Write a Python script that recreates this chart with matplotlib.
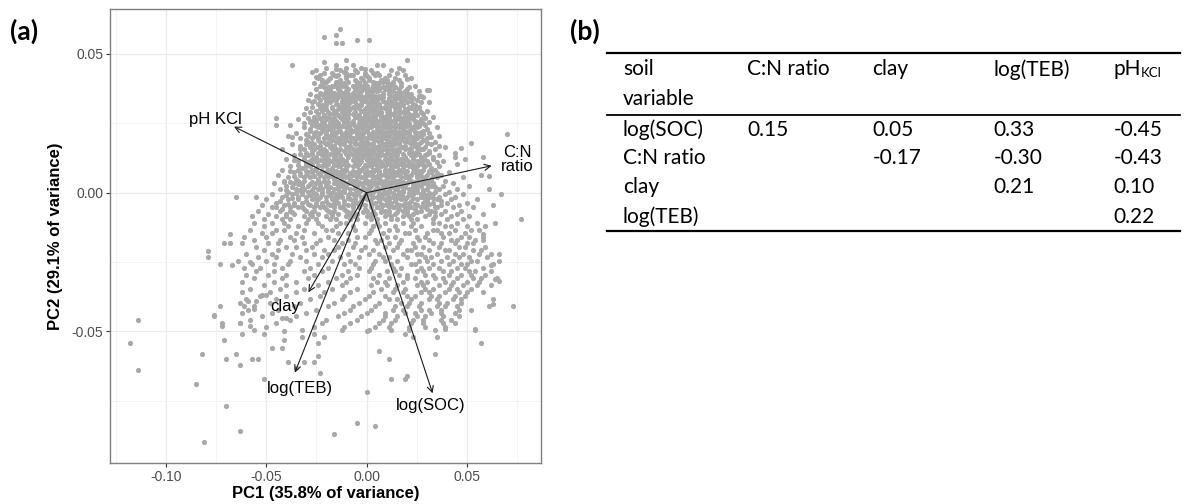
import numpy as np
import matplotlib
matplotlib.use("Agg")
import matplotlib.pyplot as plt
from matplotlib.lines import Line2D

# PCA scores, in units of 0.001
top_points = [
    (-13, 59), (-21, 56), (-15, 57), (-15, 54), (-12, 54), (-5, 55), (1, 55),
    (-37, 46), (20, 48), (-10, 48), (-21, 47), (-20, 45), (-15, 46), (-15, 44.5), (-7, 46),
    (-3, 45), (-1, 44.6), (5, 46), (8, 46), (16, 44.8), (-27, 43.5), (-25, 41.7), (-22, 40),
    (-10, 45), (-11, 43.4), (-10, 42), (-7, 42.4), (-5, 43.6), (0, 42), (3, 43.3), (-15, 42),
    (-13, 39), (-14, 38), (20, 41), (-5, 39), (5, 39.4), (5, 38), (6, 37), (10, 40), (12, 39),
    (14, 38), (-1, 38), (0, 37), (-19, 38), (-17, 36), (-20, 36), (20, 36), (16, 36),
    (27, 35), (30, 37), (-10, 36), (-7, 35), (-5, 35), (-12, 35), (-14, 35), (-16, 35),
]

outlier_points = [
    (-114, -46), (-118, -54), (-114, -64), (-85, -69), (-82, -58), (-70, -77), (-63, -86),
    (-81, -90), (-79, -21), (-76, -44), (-73, -41), (-72, -48), (-71, -53), (-70, -60),
    (-71, -18), (-68, -15), (-67, -26), (-65, -58), (-63, -62), (-63, -47), (-62, -51),
    (-61, -41), (-59, -39), (-58, -48), (-58, -25), (-57, -60), (-54, -60), (-56, -42),
    (-55, -39), (-52, -37), (-50, -37), (-51, -51), (-51, -67), (-47, -56), (-41, -50),
    (-42, -45), (-40, -45), (-41, -53), (-42, -56), (-39, -61), (-35, -63), (-31, -61),
    (-26, -61), (-23, -65), (-32, -52), (-26, -51), (-21, -52), (-24, -54), (-24, -59),
    (-16, -87), (-5, -83), (4, -84), (0, -72), (0, -50), (6, -57), (11, -60), (12, -67),
    (19, -67), (20, -66), (19, -51), (23, -52), (34, -58), (35, -52), (39, -49), (54, -49),
    (57, -54), (63, -40), (70, 21), (58, -15), (58, -17), (66, -22), (62, -26), (64, -31),
    (66, -32), (61, 6), (58, 13), (52, 18), (47, 16), (44, 13), (36, 17), (30, 14), (31, 37),
    (26, 35), (-45, 27), (-37, 20), (-41, 4), (-40, 1),
]

# bulk of the cloud, one row of PC1 values per PC2 value
cloud_rows = [
    (44.2, [-25, -13, -6, 2, 12, 18]),
    (43.1, [-21, -17, -10, -1, 5, 15]),
    (42.4, [-23, -16, -14, -8, -1, 4, 6, 11, 19]),
    (41.3, [-24, -18, -10, -3, 1, 9, 14, 22]),
    (40.5, [-22, -19, -13, -6, -2, 1, 7, 10, 16]),
    (39.4, [-26, -21, -15, -11, -4, -1, 4, 6, 13, 17]),
    (38.6, [-23, -17, -16, -12, -7, -3, 0, 3, 10, 12, 17, 24]),
    (37.5, [-25, -18, -14, -9, -6, -1, 2, 4, 9, 11, 16, 20]),
    (36.7, [-20, -18, -13, -10, -4, -3, 3, 5, 11, 13, 19, 26]),
    (35.4, [-28, -22, -19, -14, -11, -9, -5, 0, 2, 8, 11, 15, 22]),
    (34.6, [-24, -21, -15, -14, -9, -7, -1, 1, 5, 8, 14, 17, 21, 28]),
    (33.5, [-29, -23, -17, -15, -10, -8, -3, -1, 4, 5, 11, 14, 19, 25]),
    (32.7, [-27, -20, -18, -12, -8, -6, 0, 3, 4, 9, 12, 17, 20, 27, 31]),
    (31.6, [-22, -20, -14, -11, -9, -5, -3, 1, 5, 6, 12, 13, 18, 24]),
    (30.4, [-30, -23, -21, -17, -12, -10, -6, -4, 1, 2, 7, 9, 14, 16, 22, 26]),
    (29.6, [-25, -22, -16, -15, -10, -9, -3, -2, 3, 5, 10, 11, 16, 20, 24, 30]),
    (28.5, [-31, -24, -18, -16, -11, -9, -7, -1, 0, 5, 7, 12, 13, 19, 21, 28]),
    (27.3, [-26, -21, -19, -13, -11, -6, -5, 0, 2, 7, 8, 14, 15, 20, 23, 33]),
    (26.6, [-34, -25, -20, -17, -12, -10, -4, -3, 2, 3, 8, 9, 15, 17, 23, 27]),
    (25.5, [-28, -25, -18, -16, -11, -9, -7, -2, -1, 4, 5, 10, 11, 17, 19, 26, 31]),
    (24.3, [-45, -38, -27, -23, -17, -15, -9, -8, -3, -2, 3, 4, 9, 10, 16, 18, 24, 29]),
    (23.6, [-31, -24, -21, -16, -14, -10, -5, -4, 1, 2, 8, 9, 14, 16, 22, 25, 35]),
    (22.4, [-28, -22, -20, -14, -13, -7, -6, -1, 0, 6, 7, 13, 14, 19, 21, 28]),
    (21.5, [-35, -26, -23, -17, -15, -10, -8, -3, -2, 3, 5, 10, 12, 17, 19, 25, 31]),
    (20.3, [-39, -29, -26, -20, -18, -12, -10, -5, -4, 1, 3, 8, 9, 15, 17, 24, 27, 36]),
    (19.6, [-33, -27, -21, -19, -14, -12, -7, -5, 0, 2, 7, 8, 13, 15, 20, 25, 30]),
    (18.4, [-29, -23, -21, -15, -13, -8, -6, -1, 0, 6, 7, 12, 14, 19, 21, 27, 34]),
    (17.5, [-37, -30, -26, -20, -18, -13, -11, -6, -4, 1, 3, 8, 9, 14, 16, 22, 26, 32]),
    (16.3, [-28, -24, -18, -16, -10, -9, -3, -2, 3, 5, 10, 11, 17, 18, 25, 29, 39]),
    (15.6, [-42, -33, -26, -23, -17, -15, -9, -7, -2, 0, 5, 6, 12, 13, 19, 21, 27, 34]),
    (14.4, [-30, -24, -22, -16, -14, -8, -6, -1, 1, 6, 7, 13, 14, 21, 23, 31, 44]),
    (13.5, [-36, -29, -22, -20, -14, -13, -7, -5, 0, 2, 7, 9, 14, 15, 22, 24, 29, 36]),
    (12.3, [-40, -31, -27, -21, -19, -13, -12, -6, -4, 1, 3, 9, 10, 15, 17, 23, 27, 33, 49]),
    (11.6, [-34, -28, -25, -19, -17, -11, -10, -4, -3, 3, 4, 10, 11, 17, 18, 25, 30, 38]),
    (10.4, [-30, -27, -21, -19, -13, -11, -5, -4, 2, 3, 8, 10, 15, 17, 23, 26, 31, 45]),
    (9.5, [-38, -30, -28, -22, -20, -14, -13, -7, -5, 0, 2, 7, 9, 14, 15, 21, 25, 29, 36]),
    (8.3, [-42, -34, -27, -25, -19, -17, -12, -10, -4, -3, 3, 4, 9, 11, 16, 18, 24, 28, 34]),
    (7.6, [-36, -29, -27, -20, -18, -13, -11, -5, -4, 2, 3, 9, 10, 15, 17, 23, 27, 32, 41]),
    (6.4, [-44, -33, -30, -23, -20, -14, -12, -7, -5, 0, 2, 7, 9, 14, 16, 22, 25, 30, 37, 57]),
    (5.5, [-39, -31, -28, -21, -19, -12, -10, -5, -3, 3, 4, 10, 11, 17, 19, 25, 29, 35, 48]),
    (4.3, [-41, -34, -31, -24, -21, -15, -13, -7, -6, 0, 2, 7, 9, 15, 16, 22, 26, 31, 39]),
    (3.6, [-46, -36, -32, -25, -23, -16, -15, -9, -7, -2, 0, 5, 7, 12, 14, 20, 23, 28, 33, 43]),
    (2.4, [-40, -32, -29, -23, -20, -14, -12, -6, -5, 1, 2, 8, 9, 15, 17, 23, 27, 32, 38, 51]),
    (1.5, [-43, -35, -31, -24, -22, -16, -14, -8, -6, -1, 1, 6, 8, 14, 15, 21, 25, 30, 36, 45, 61]),
    (0.3, [-39, -32, -29, -22, -19, -13, -11, -5, -4, 2, 3, 9, 11, 16, 18, 25, 28, 34, 41]),
    (-0.6, [-47, -37, -32, -25, -22, -15, -13, -7, -5, 1, 2, 8, 10, 16, 17, 23, 27, 33, 39, 48, 67]),
    (-1.5, [-65, -55, -42, -34, -30, -23, -20, -14, -12, -6, -3, 3, 5, 11, 13, 18, 20, 27, 31, 36, 44]),
    (-2.4, [-50, -39, -34, -27, -24, -17, -15, -8, -6, 0, 2, 9, 11, 17, 19, 25, 29, 35, 42, 55]),
    (-3.6, [-45, -36, -32, -25, -22, -16, -14, -7, -5, 2, 4, 10, 12, 19, 21, 28, 33, 40, 50]),
    (-4.5, [-52, -41, -36, -28, -25, -18, -16, -9, -7, -1, 2, 8, 10, 16, 18, 25, 30, 37, 46, 63]),
    (-5.3, [-47, -38, -34, -26, -23, -16, -13, -7, -4, 2, 5, 11, 13, 19, 22, 29, 35, 43, 53]),
    (-6.6, [-54, -43, -38, -30, -26, -19, -16, -10, -7, 0, 3, 9, 11, 18, 20, 27, 32, 39, 47]),
    (-7.5, [-49, -40, -36, -28, -24, -17, -14, -8, -5, 2, 4, 11, 14, 20, 23, 31, 37, 45, 58]),
    (-8.4, [-57, -45, -40, -31, -27, -20, -17, -10, -7, 0, 2, 9, 12, 18, 21, 29, 34, 42, 51]),
    (-9.6, [-51, -42, -38, -29, -25, -18, -15, -8, -5, 2, 5, 12, 15, 22, 25, 33, 40, 48, 77]),
    (-10.8, [-56, -47, -41, -30, -24, -13, -10, -1, 5, 9, 18, 23, 33, 36, 45, 55, 64]),
    (-12.1, [-51, -39, -34, -22, -15, -7, 3, 6, 14, 22, 27, 39, 42, 50, 59]),
    (-13.3, [-58, -45, -41, -31, -20, -17, -6, 2, 11, 15, 24, 33, 35, 44, 52, 56]),
    (-14.6, [-52, -47, -35, -26, -14, -9, 1, 8, 19, 21, 30, 37, 41, 49]),
    (-15.8, [-61, -50, -38, -32, -19, -5, -1, 10, 14, 25, 29, 38, 47, 51, 58]),
    (-17.1, [-56, -43, -36, -23, -16, -9, 4, 7, 17, 26, 31, 42, 45, 54]),
    (-18.3, [-68, -62, -49, -44, -31, -25, -12, -6, 5, 11, 16, 23, 33, 37, 44, 50, 53]),
    (-19.6, [-55, -40, -35, -27, -14, -7, -1, 9, 15, 24, 28, 36, 46, 49, 59]),
    (-20.8, [-51, -44, -30, -21, -16, -3, 3, 13, 20, 22, 31, 39, 41, 53, 57]),
    (-22.1, [-60, -47, -37, -26, -19, -9, 1, 6, 18, 25, 27, 35, 44, 48, 56, 62]),
    (-23.3, [-79, -54, -45, -33, -22, -13, -4, 8, 11, 20, 29, 32, 40, 46, 51, 60]),
    (-24.6, [-64, -50, -38, -30, -17, -8, 4, 9, 15, 26, 30, 37, 43, 52, 55, 66]),
    (-25.8, [-73, -57, -46, -39, -24, -11, -6, 3, 12, 22, 24, 33, 41, 47, 50, 63]),
    (-27.1, [-61, -53, -42, -28, -19, -4, 2, 13, 17, 27, 31, 36, 45, 49, 58]),
    (-28.3, [-55, -46, -31, -22, -9, 1, 10, 14, 25, 28, 38, 42, 51, 54, 62]),
    (-29.6, [-60, -49, -40, -26, -12, -5, 6, 16, 20, 29, 33, 41, 47, 52, 59]),
    (-30.8, [-56, -42, -29, -15, -8, 3, 11, 20, 24, 34, 38, 45, 53, 57, 65]),
    (-32.1, [-62, -46, -35, -19, -10, 5, 9, 18, 27, 30, 39, 43, 50, 56]),
    (-33.3, [-51, -40, -24, -12, 2, 10, 15, 25, 28, 36, 42, 48, 55, 62]),
    (-34.6, [-58, -43, -31, -17, -5, 7, 14, 19, 29, 33, 41, 45, 52]),
    (-35.8, [-62, -48, -35, -21, -8, 3, 13, 18, 27, 31, 39, 46, 50, 58]),
    (-37.1, [-53, -40, -23, -11, 1, 9, 20, 24, 32, 36, 44, 49]),
    (-38.3, [-60, -45, -28, -12, -1, 11, 15, 22, 31, 35, 43, 47, 63]),
    (-39.6, [-63, -48, -33, -16, -4, 6, 17, 21, 27, 36, 40, 47]),
    (-40.8, [-56, -36, -19, -7, 4, 14, 20, 26, 35, 39, 45, 61, 73]),
    (-42.1, [-59, -44, -25, -8, 2, 13, 18, 27, 31, 37, 46, 52]),
    (-43.3, [-62, -47, -30, -11, 0, 9, 19, 24, 32, 37, 44]),
    (-44.6, [-76, -52, -35, -14, -3, 9, 15, 25, 29, 38, 46]),
    (-45.8, [-58, -38, -20, -5, 8, 14, 23, 28, 37, 42]),
    (-47.1, [-72, -63, -45, -22, -8, 6, 12, 22, 28, 38, 44]),
    (-48.3, [-50, -26, -11, 4, 11, 21, 29, 39]),
    (-49.6, [-56, -32, -12, 1, 12, 21, 34, 54]),
]

# extra points of the dense core, lying between the rows above
core_fill_rows = [
    (39.9, [-20, -15, -9, -5, 3, 8, 13]),
    (38.0, [-21, -14, -10, -5, -2, 6, 8, 14, 21]),
    (36.1, [-23, -16, -11, -7, 0, 2, 8, 15, 17]),
    (35.0, [-25, -17, -12, -6, -3, 4, 6, 13, 19]),
    (34.0, [-19, -11, -4, 3, 7, 11, 16, 23]),
    (33.1, [-26, -20, -12, -6, -2, 2, 8, 13, 17, 22]),
    (32.1, [-24, -15, -10, -3, 1, 6, 10, 15, 23]),
    (31.0, [-27, -17, -13, -7, 0, 3, 9, 16, 21, 26]),
    (30.0, [-20, -14, -8, -1, 5, 11, 19, 24]),
    (29.0, [-28, -19, -12, -6, 1, 7, 14, 18, 27]),
    (28.0, [-21, -14, -4, 3, 10, 16, 23, 25]),
    (27.0, [-29, -23, -16, -9, -2, 4, 11, 18, 21, 29]),
    (25.9, [-27, -22, -15, -7, 0, 6, 13, 20, 24]),
    (25.0, [-31, -21, -14, -4, 2, 8, 14, 21, 28]),
    (23.9, [-25, -19, -12, -6, 0, 6, 12, 20, 26]),
    (23.0, [-28, -22, -18, -8, -2, 5, 11, 18, 23, 30]),
    (21.9, [-25, -16, -10, -4, 3, 9, 16, 24, 27]),
    (21.0, [-30, -20, -12, -5, 1, 7, 14, 21, 28]),
    (19.9, [-24, -16, -8, -2, 5, 11, 18, 22, 32]),
    (19.0, [-30, -24, -17, -10, -3, 4, 10, 17, 23, 28]),
    (17.9, [-27, -19, -11, -3, 3, 10, 16, 24, 30]),
    (17.0, [-33, -23, -16, -8, -1, 6, 12, 19, 24]),
    (15.9, [-31, -21, -13, -5, 1, 8, 15, 22, 28]),
    (15.0, [-27, -20, -11, -4, 3, 10, 16, 25, 31]),
    (13.9, [-33, -27, -18, -10, -3, 4, 11, 18, 26]),
    (13.0, [-31, -25, -16, -9, -2, 5, 12, 19, 27, 33]),
    (11.9, [-36, -23, -15, -7, 0, 6, 13, 20, 29]),
    (11.0, [-30, -21, -14, -6, 1, 7, 14, 21, 27, 35]),
    (9.9, [-34, -24, -16, -9, -1, 5, 12, 19, 28]),
    (9.0, [-32, -25, -17, -10, -2, 5, 12, 18, 23, 32]),
    (7.9, [-38, -30, -22, -15, -7, 0, 6, 13, 20, 26, 31]),
    (7.0, [-33, -24, -16, -8, -1, 6, 12, 19, 25, 35]),
    (5.9, [-36, -26, -17, -9, -1, 5, 12, 20, 27, 33]),
    (4.9, [-35, -24, -16, -8, -1, 6, 13, 21, 28, 32]),
    (3.9, [-38, -27, -19, -11, -4, 4, 11, 18, 24, 29]),
    (3.0, [-34, -28, -20, -12, -4, 3, 10, 17, 25, 30]),
    (1.9, [-37, -26, -18, -10, -2, 5, 12, 19, 24, 34]),
    (1.0, [-33, -27, -19, -11, -3, 4, 11, 18, 23, 28]),
    (-0.1, [-35, -26, -17, -8, 0, 6, 13, 21, 31]),
    (-1.0, [-40, -28, -18, -9, -1, 6, 14, 22, 29]),
    (-2.0, [-37, -26, -16, -9, -1, 7, 15, 23, 33]),
    (-3.0, [-43, -30, -20, -11, -3, 6, 14, 22, 30, 37]),
    (-4.0, [-39, -29, -19, -11, -3, 7, 15, 24, 31]),
    (-5.0, [-45, -32, -21, -12, -4, 5, 14, 21, 27, 34]),
    (-6.0, [-42, -31, -20, -11, -1, 7, 16, 24, 30]),
    (-7.0, [-37, -27, -18, -9, -2, 7, 15, 25, 34]),
]

# loading arrows (tip position) and their label positions
arrow_names = ["pH KCl", "C:N\nratio", "clay", "log(TEB)", "log(SOC)"]
arrow_tips = [(-0.0660, 0.0238), (0.0623, 0.0097), (-0.0290, -0.0359),
              (-0.0357, -0.0648), (0.0329, -0.0723)]
label_pos = [(-0.0753, 0.0262), (0.0752, 0.0119), (-0.0405, -0.0411),
             (-0.0334, -0.0705), (0.0320, -0.0767)]

# correlation table (b)
col_heads = ["soil\nvariable", "C:N ratio", "clay", "log(TEB)", "pH"]
row_heads = ["log(SOC)", "C:N ratio", "clay", "log(TEB)"]
table_vals = [
    ["0.15", "0.05", "0.33", "-0.45"],
    ["", "-0.17", "-0.30", "-0.43"],
    ["", "", "0.21", "0.10"],
    ["", "", "", "0.22"],
]

pts = top_points + outlier_points
pts += [(x, y) for y, xs in cloud_rows + core_fill_rows for x in xs]
pc1 = np.array([p[0] for p in pts]) / 1000.0
pc2 = np.array([p[1] for p in pts]) / 1000.0

W, H = 1188, 504
fig = plt.figure(figsize=(W / 100, H / 100), dpi=100)
ax = fig.add_axes([110 / W, 1 - 462.7 / H, (540.8 - 110) / W, (462.7 - 9) / H])

ax.scatter(pc1, pc2, s=14, color="#a9a9a9", linewidths=0, zorder=2)

for tip in arrow_tips:
    ax.annotate("", xy=tip, xytext=(0, 0),
                arrowprops=dict(arrowstyle="->", lw=0.8, color="#1a1a1a",
                                shrinkA=0, shrinkB=0, mutation_scale=11),
                zorder=3)
for name, (lx, ly) in zip(arrow_names, label_pos):
    ax.text(lx, ly, name, ha="center", va="center", fontsize=12,
            family="Liberation Sans", color="black", linespacing=0.9, zorder=4)

ax.set_xlim(-0.1278, 0.0868)
ax.set_ylim(-0.0973, 0.0662)
ax.set_xticks([-0.10, -0.05, 0.00, 0.05])
ax.set_xticklabels(["-0.10", "-0.05", "0.00", "0.05"])
ax.set_xticks([-0.125, -0.075, -0.025, 0.025, 0.075], minor=True)
ax.set_yticks([-0.05, 0.00, 0.05])
ax.set_yticklabels(["-0.05", "0.00", "0.05"])
ax.set_yticks([-0.075, -0.025, 0.025], minor=True)
ax.grid(which="major", color="#ebebeb", lw=0.9, zorder=0)
ax.grid(which="minor", color="#f2f2f2", lw=0.6, zorder=0)
ax.set_axisbelow(True)
ax.tick_params(which="major", length=3, width=0.8, color="#333333",
               labelsize=10, labelcolor="#4d4d4d", pad=2)
ax.tick_params(which="minor", length=0)
for lab in ax.get_xticklabels() + ax.get_yticklabels():
    lab.set_family("Liberation Sans")
for sp in ax.spines.values():
    sp.set_color("#7f7f7f")
    sp.set_linewidth(1.0)
ax.set_xlabel("PC1 (35.8% of variance)", fontsize=12, fontweight="bold",
              family="Liberation Sans", labelpad=2)
ax.set_ylabel("PC2 (29.1% of variance)", fontsize=12, fontweight="bold",
              family="Liberation Sans", labelpad=6)

# panel letters
fig.text(9.6 / W, 1 - 31.5 / H, "(a)", fontsize=19, fontweight="bold",
         family="Lato", ha="left", va="center")
fig.text(570 / W, 1 - 31.5 / H, "(b)", fontsize=19, fontweight="bold",
         family="Lato", ha="left", va="center")

# table (b)
col_x = [623, 747, 872.6, 993.7, 1113.7]
head_y = [69.3, 99.3]
row_y = [130, 158.3, 186.7, 216.7]
tfont = dict(fontsize=15, family="Lato", ha="left", va="center")

for cx, head in zip(col_x, col_heads):
    for k, part in enumerate(head.split("\n")):
        fig.text(cx / W, 1 - head_y[k] / H, part, **tfont)
fig.text((col_x[4] + 27) / W, 1 - (head_y[0] + 4) / H, "KCl",
         fontsize=9.5, family="Lato", ha="left", va="center")
for ry, rname, vals in zip(row_y, row_heads, table_vals):
    fig.text(col_x[0] / W, 1 - ry / H, rname, **tfont)
    for cx, v in zip(col_x[1:], vals):
        if v:
            fig.text(cx / W, 1 - ry / H, v, **tfont)

for ly, lw in [(52.7, 1.6), (115, 1.3), (230.7, 1.6)]:
    fig.add_artist(Line2D([607 / W, 1180 / W], [1 - ly / H, 1 - ly / H],
                          lw=lw, color="black", transform=fig.transFigure))

fig.savefig("out.png", dpi=100)
